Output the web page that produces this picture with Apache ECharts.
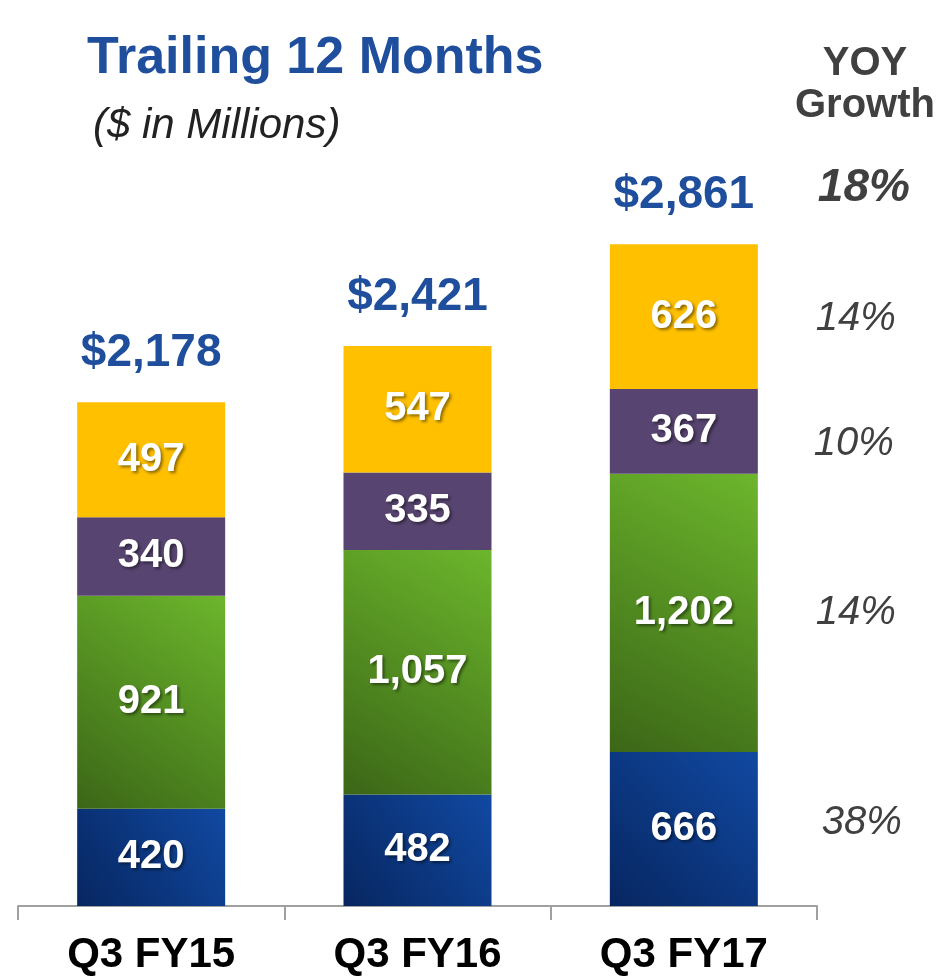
<!DOCTYPE html>
<html>
<head>
<meta charset="utf-8">
<script src="https://cdn.jsdelivr.net/npm/echarts@6/dist/echarts.min.js"></script>
<style>
  html, body { margin: 0; padding: 0; background: #fff; }
  #chart { width: 947px; height: 976px; }
</style>
</head>
<body>
<div id="chart"></div>
<script>
const categories = ['Q3 FY15', 'Q3 FY16', 'Q3 FY17'];
const blueVals = [420, 482, 666];
const greenVals = [921, 1057, 1202];
const purpleVals = [340, 335, 367];
const goldVals = [497, 547, 626];
const totals = [2178, 2421, 2861];
// YOY growth, bottom segment to top, then the total
const growthSeg = ['38%', '14%', '10%', '14%'];
const growthTotal = '18%';

const FONT = '"Liberation Sans", Arial, sans-serif';
const fmt = (v) => v.toLocaleString('en-US');

const chart = echarts.init(document.getElementById('chart'));

const grad = (dark, light) => new echarts.graphic.LinearGradient(0, 1, 1, 0, [
  { offset: 0, color: dark },
  { offset: 1, color: light },
]);

const insideLabel = {
  show: true,
  position: 'inside',
  color: '#fff',
  fontFamily: FONT,
  fontWeight: 'bold',
  fontSize: 40,
  textShadowColor: 'rgba(0,0,0,0.45)',
  textShadowBlur: 3,
  textShadowOffsetX: 2,
  textShadowOffsetY: 2,
  formatter: (p) => fmt(p.value),
};

function barSeries(name, data, color) {
  return {
    name,
    type: 'bar',
    stack: 'ttm',
    barWidth: 148,
    data,
    itemStyle: { color },
    label: insideLabel,
    emphasis: { disabled: true },
  };
}

// growth labels sit next to the last bar's segments
const segs = [blueVals, greenVals, purpleVals, goldVals];
const nudge = [[178, -6], [172, 0], [170, 12], [172, 2]];
const last = categories.length - 1;
let base = 0;
const growthData = segs.map((arr, i) => {
  const mid = base + arr[last] / 2;
  base += arr[last];
  return { value: [last, mid], name: growthSeg[i], label: { offset: nudge[i] } };
});
growthData.push({
  value: [last, totals[last]],
  name: growthTotal,
  label: { fontWeight: 'bold', fontSize: 46, offset: [180, -56] },
});

const option = {
  animation: false,
  title: [
    {
      text: 'Trailing 12 Months',
      left: 82, top: 28,
      textStyle: { fontFamily: FONT, fontWeight: 'bold', fontSize: 52, color: '#1f4e9c' },
    },
    {
      text: '($ in Millions)',
      left: 88, top: 100,
      textStyle: { fontFamily: FONT, fontStyle: 'italic', fontWeight: 'normal', fontSize: 42, color: '#222' },
    },
    {
      text: 'YOY\nGrowth',
      left: 860, top: 38, textAlign: 'center',
      textStyle: { fontFamily: FONT, fontWeight: 'bold', fontSize: 40, lineHeight: 42, color: '#404040', align: 'center' },
    },
  ],
  grid: { left: 18, right: 130, top: 212, bottom: 69, containLabel: false },
  xAxis: {
    type: 'category',
    data: categories,
    boundaryGap: true,
    axisLine: { lineStyle: { color: '#a0a0a0', width: 2 } },
    axisTick: { show: true, length: 14, lineStyle: { color: '#a0a0a0', width: 2 } },
    axisLabel: { margin: 28, fontFamily: FONT, fontWeight: 'bold', fontSize: 42, color: '#000' },
  },
  yAxis: {
    type: 'value',
    min: 0, max: 3000,
    show: false,
    splitLine: { show: false },
  },
  series: [
    barSeries('blue', blueVals, grad('#072660', '#1149a2')),
    barSeries('green', greenVals, grad('#3b6617', '#6cb62c')),
    barSeries('purple', purpleVals, '#574470'),
    barSeries('gold', goldVals, '#ffc000'),
    {
      name: 'total',
      type: 'scatter',
      symbolSize: 0,
      itemStyle: { opacity: 1 },
      data: totals.map((t, i) => [i, t]),
      label: {
        show: true,
        position: 'top',
        distance: 26,
        fontFamily: FONT,
        fontWeight: 'bold',
        fontSize: 46,
        color: '#1f4e9c',
        formatter: (p) => '$' + fmt(p.value[1]),
      },
      emphasis: { disabled: true },
    },
    {
      name: 'growth',
      type: 'scatter',
      symbolSize: 0,
      itemStyle: { opacity: 1 },
      data: growthData,
      label: {
        show: true,
        position: 'inside',
        fontFamily: FONT,
        fontStyle: 'italic',
        fontSize: 40,
        color: '#404040',
        formatter: (p) => p.name,
      },
      emphasis: { disabled: true },
    },
  ],
};

chart.setOption(option);
</script>
</body>
</html>
